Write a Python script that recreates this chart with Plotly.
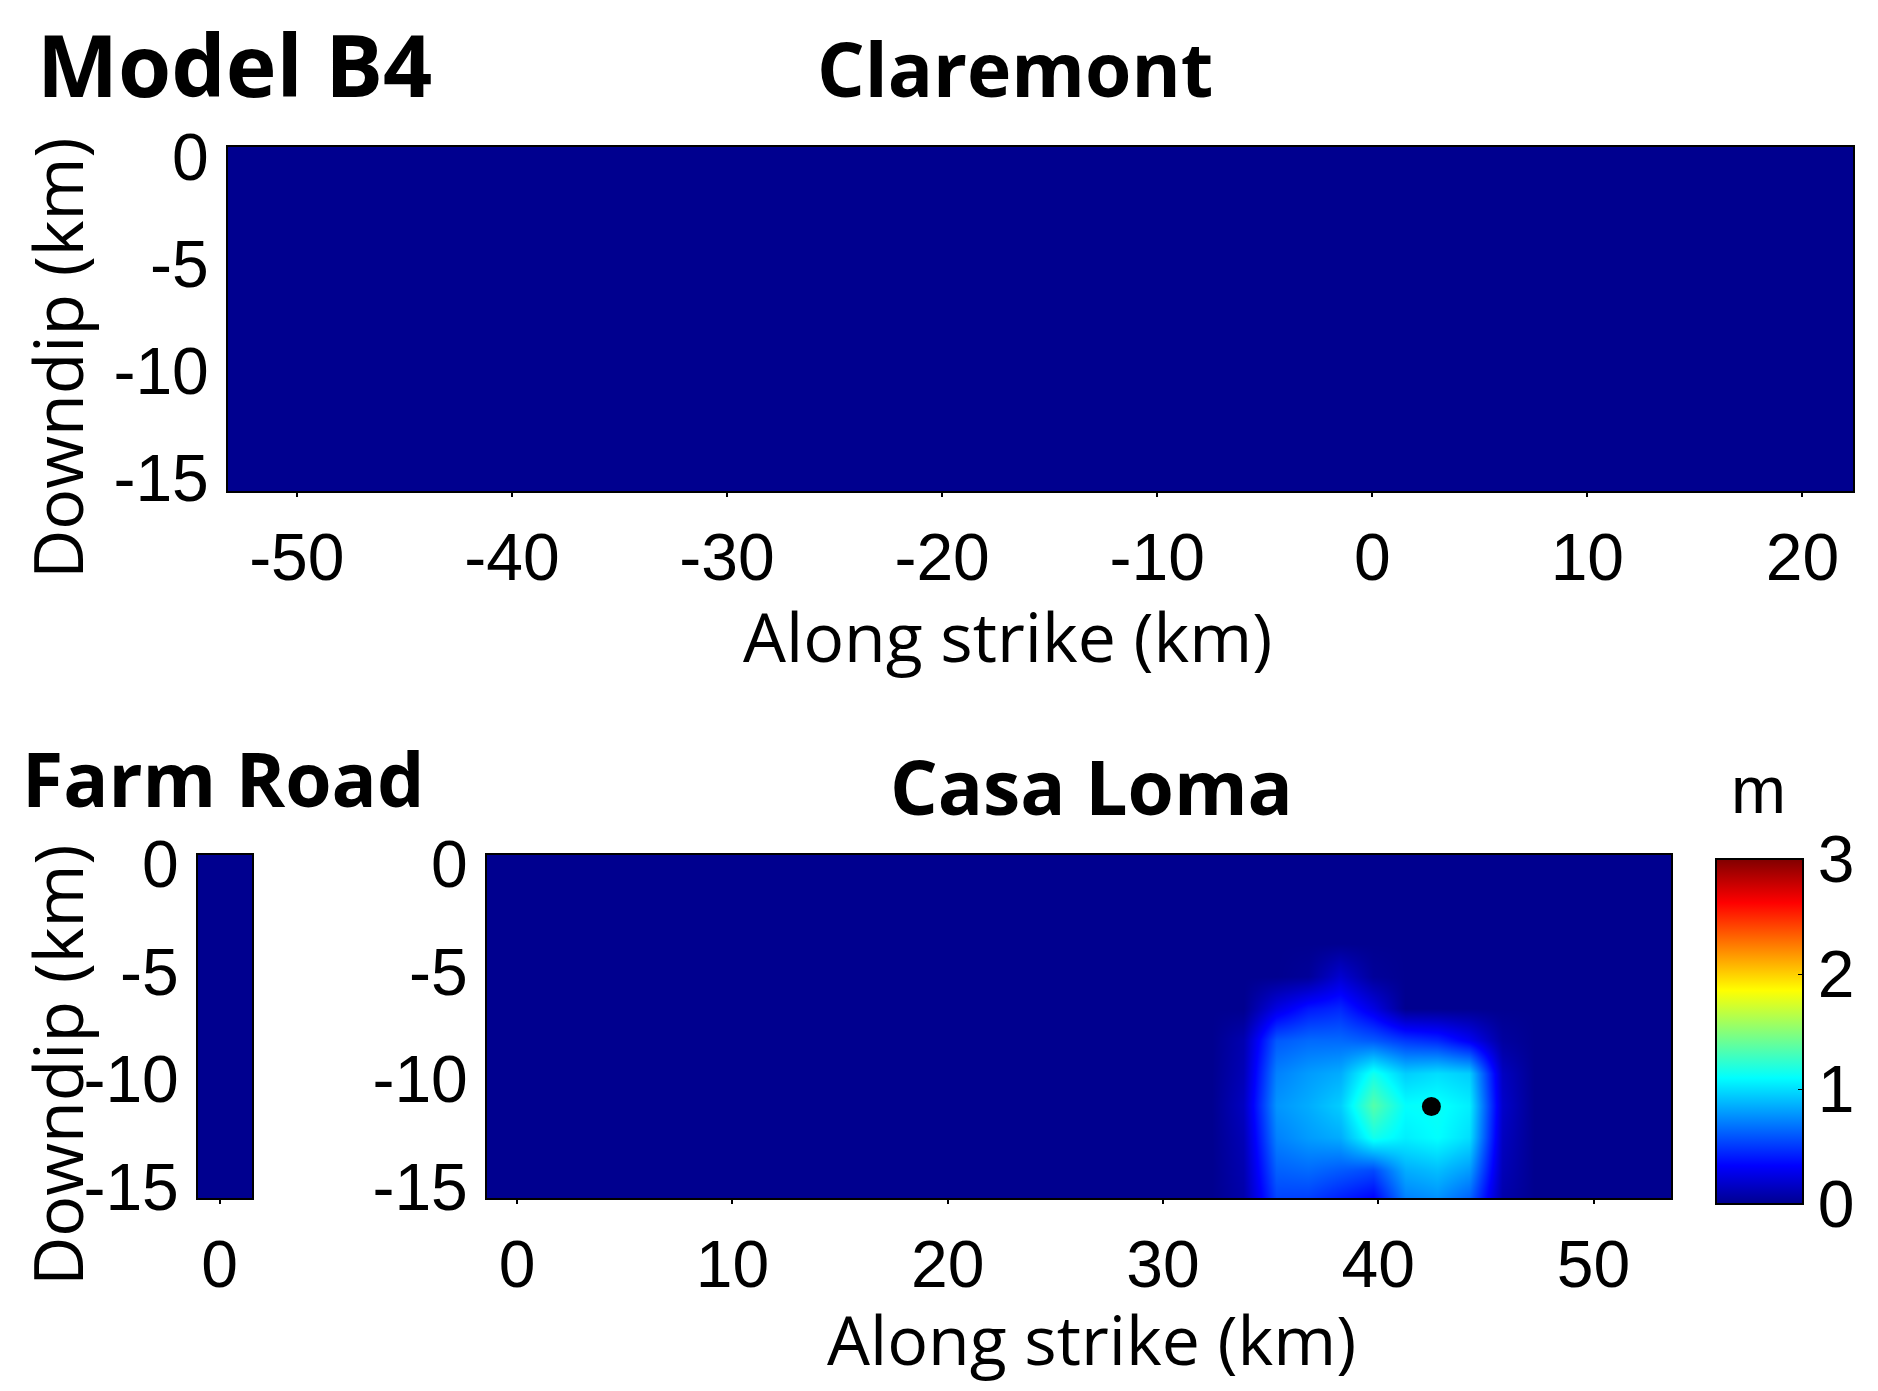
import plotly.graph_objects as go

# page is 1878x1391; the html body has an 8px margin
OFF = 8
W, H = 1878 - 2 * OFF, 1391 - 2 * OFF

# ---------------- data ----------------
# Claremont (no slip): single fault cell edges, slip value (m)
claremont_strike_edges = [-53.2, 22.35]
claremont_dip_edges = [-15.6, 0.45]
claremont_slip = [[0.0]]

# Farm Road (no slip)
farmroad_strike_edges = [-1.0, 1.5]
farmroad_dip_edges = [-15.5, 0.4]
farmroad_slip = [[0.0]]

# Casa Loma fault extent (background, zero slip)
casaloma_strike_edges = [-1.4, 53.6]
casaloma_dip_edges = [-15.5, 0.4]
casaloma_base_slip = [[0.0]]

# Casa Loma slip patch (m)
slip_strike_km = [32.25, 33.75, 35.25, 36.75, 38.25, 39.75, 41.25, 42.75, 44.25, 45.75, 47.25]
slip_dip_km = [-3.7, -5.2, -6.7, -8.2, -9.7, -11.2, -12.7, -14.2, -15.7]
slip_row_m3_7 = [0, 0, 0, 0, 0, 0, 0, 0, 0, 0, 0]
slip_row_m5_2 = [0, 0, 0, 0.03, 0.2, 0.03, 0, 0, 0, 0, 0]
slip_row_m6_7 = [0, 0, 0.25, 0.4, 0.45, 0.25, 0, 0, 0, 0, 0]
slip_row_m8_2 = [0, 0.1, 0.6, 0.65, 0.65, 0.6, 0.5, 0.45, 0.3, 0.05, 0]
slip_row_m9_7 = [0, 0.12, 0.72, 0.8, 0.85, 1.15, 0.95, 1.0, 0.95, 0.15, 0]
slip_row_m11_2 = [0, 0.15, 0.78, 0.85, 0.95, 1.35, 1.1, 1.12, 1.05, 0.18, 0]
slip_row_m12_7 = [0, 0.12, 0.72, 0.8, 0.85, 1.15, 1.05, 1.1, 1.0, 0.15, 0]
slip_row_m14_2 = [0, 0.1, 0.62, 0.65, 0.6, 0.55, 0.85, 0.9, 0.8, 0.12, 0]
slip_row_m15_7 = [0, 0.08, 0.52, 0.5, 0.4, 0.3, 0.7, 0.75, 0.6, 0.08, 0]
casaloma_slip = [slip_row_m3_7, slip_row_m5_2, slip_row_m6_7, slip_row_m8_2, slip_row_m9_7,
                 slip_row_m11_2, slip_row_m12_7, slip_row_m14_2, slip_row_m15_7]

# hypocenter
hypo_strike = [42.47]
hypo_dip = [-11.26]

top_xticks = [-50, -40, -30, -20, -10, 0, 10, 20]
top_xlabels = ['-50', '-40', '-30', '-20', '-10', '0', '10', '20']
casa_xticks = [0, 10, 20, 30, 40, 50]
casa_xlabels = ['0', '10', '20', '30', '40', '50']
farm_xticks = [0]
farm_xlabels = ['0']
dip_ticks = [0, -5, -10, -15]
dip_labels = ['0', '-5', '-10', '-15']
cbar_ticks = [0, 1, 2, 3]

# ---------------- figure ----------------
jet = [[0.0, 'rgb(0,0,143)'], [0.111, 'rgb(0,0,255)'], [0.365, 'rgb(0,255,255)'],
       [0.619, 'rgb(255,255,0)'], [0.873, 'rgb(255,0,0)'], [1.0, 'rgb(128,0,0)']]

fig = go.Figure()
fig.add_trace(go.Heatmap(x=claremont_strike_edges, y=claremont_dip_edges, z=claremont_slip,
                         coloraxis='coloraxis', xaxis='x', yaxis='y', hoverinfo='skip'))
fig.add_trace(go.Heatmap(x=farmroad_strike_edges, y=farmroad_dip_edges, z=farmroad_slip,
                         coloraxis='coloraxis', xaxis='x2', yaxis='y2', hoverinfo='skip'))
fig.add_trace(go.Heatmap(x=casaloma_strike_edges, y=casaloma_dip_edges, z=casaloma_base_slip,
                         coloraxis='coloraxis', xaxis='x3', yaxis='y3', hoverinfo='skip'))
fig.add_trace(go.Heatmap(x=slip_strike_km, y=slip_dip_km, z=casaloma_slip, zsmooth='best',
                         coloraxis='coloraxis', xaxis='x3', yaxis='y3'))
fig.add_trace(go.Scatter(x=hypo_strike, y=hypo_dip, mode='markers', xaxis='x3', yaxis='y3',
                         marker=dict(color='black', size=19), showlegend=False))

tickfont = dict(family='Liberation Sans, Arial', size=66, color='black')
axis_common = dict(showline=True, mirror=True, linecolor='black', linewidth=2,
                   showgrid=False, zeroline=False, tickfont=tickfont)
xcommon = dict(axis_common, ticks='outside', ticklen=4, tickwidth=2, tickcolor='black',
               ticklabelstandoff=4)
ycommon = dict(axis_common, ticks='', ticklabelstandoff=4, tickvals=dip_ticks,
               ticktext=dip_labels)


def fx(px):
    return (px - OFF) / W


def fy(py):
    return 1 - (py - OFF) / H


fig.update_layout(
    width=W, height=H,
    margin=dict(l=0, r=0, t=0, b=0, autoexpand=False),
    paper_bgcolor='white', plot_bgcolor='rgb(0,0,143)',
    showlegend=False,
    xaxis=dict(xcommon, domain=[fx(228), fx(1853)], range=[-53.2, 22.35], tickvals=top_xticks,
               ticktext=top_xlabels, anchor='y'),
    yaxis=dict(ycommon, domain=[fy(491), fy(147)], range=[-15.6, 0.45], anchor='x'),
    xaxis2=dict(xcommon, domain=[fx(198), fx(252)], range=[-1.0, 1.5], tickvals=farm_xticks,
                ticktext=farm_xlabels, anchor='y2'),
    yaxis2=dict(ycommon, domain=[fy(1198), fy(855)], range=[-15.5, 0.4], anchor='x2'),
    xaxis3=dict(xcommon, domain=[fx(487), fx(1671)], range=[-1.4, 53.6], tickvals=casa_xticks,
                ticktext=casa_xlabels, anchor='y3'),
    yaxis3=dict(ycommon, domain=[fy(1198), fy(855)], range=[-15.5, 0.4], anchor='x3'),
    coloraxis=dict(
        colorscale=jet, cmin=0, cmax=3,
        colorbar=dict(
            x=fx(1716), xanchor='left', y=fy(1204), yanchor='bottom',
            len=(1204 - 859) / H, lenmode='fraction',
            thickness=87, thicknessmode='pixels',
            outlinewidth=2, outlinecolor='black',
            tickvals=cbar_ticks, ticks='inside', ticklen=6, tickcolor='black',
            tickfont=tickfont, xpad=0, ypad=0,
        ),
    ),
)

bold = 'Open Sans'
annotations = [
    dict(text='<b>Model B4</b>', x=234, y=64, size=86),
    dict(text='<b>Claremont</b>', x=1015, y=68, size=75),
    dict(text='<b>Farm Road</b>', x=223, y=778, size=75),
    dict(text='<b>Casa Loma</b>', x=1091, y=786, size=75),
]
for a in annotations:
    fig.add_annotation(text=a['text'], x=fx(a['x']), y=fy(a['y']), xref='paper', yref='paper',
                       xanchor='center', yanchor='middle', showarrow=False,
                       font=dict(family=bold, size=a['size'], color='black'))

# colorbar unit label
fig.add_annotation(text='m', x=fx(1758), y=fy(790), xref='paper', yref='paper',
                   xanchor='center', yanchor='middle', showarrow=False,
                   font=dict(family='Liberation Sans, Arial', size=66, color='black'))

# axis titles
for txt, x, y, ang in [('Along strike (km)', 1007, 636, 0),
                       ('Along strike (km)', 1091, 1338, 0),
                       ('Downdip (km)', 56, 359, -90),
                       ('Downdip (km)', 56, 1066, -90)]:
    fig.add_annotation(text=txt, x=fx(x), y=fy(y), xref='paper', yref='paper',
                       xanchor='center', yanchor='middle', showarrow=False, textangle=ang,
                       font=dict(family='Open Sans', size=68, color='black'))

fig.write_html('out.html')
